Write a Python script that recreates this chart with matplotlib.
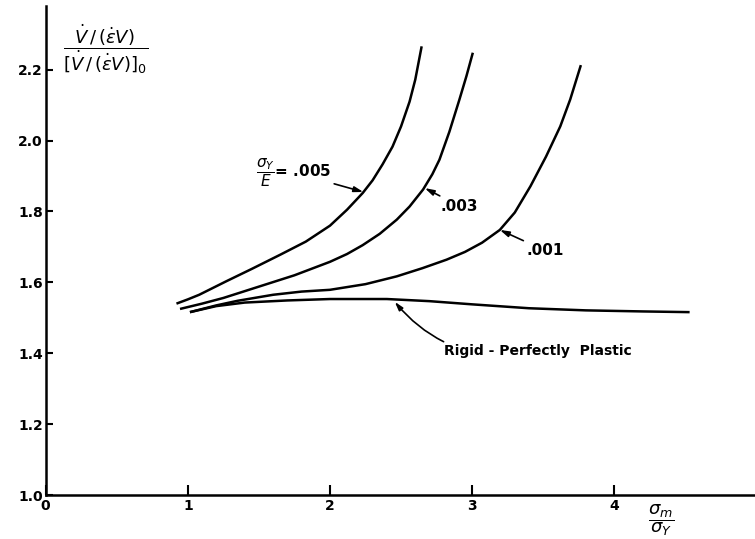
import matplotlib
matplotlib.use("Agg")
import matplotlib.pyplot as plt

plt.rcParams["font.family"] = ["DejaVu Sans"]
plt.rcParams["mathtext.fontset"] = "dejavusans"

# curves (sigma_m / sigma_Y, normalised volume rate)
x_005 = [0.92, 1.0, 1.08, 1.17, 1.27, 1.45, 1.65, 1.83, 2.0, 2.12, 2.23, 2.30, 2.37,
         2.44, 2.50, 2.56, 2.60, 2.645]
y_005 = [1.540, 1.552, 1.565, 1.583, 1.603, 1.638, 1.678, 1.715, 1.760, 1.805, 1.852,
         1.888, 1.933, 1.983, 2.040, 2.110, 2.172, 2.266]

x_003 = [0.945, 1.1, 1.25, 1.5, 1.75, 2.0, 2.12, 2.23, 2.35, 2.47, 2.56, 2.655, 2.72,
         2.77, 2.84, 2.91, 2.96, 3.005]
y_003 = [1.525, 1.540, 1.556, 1.588, 1.620, 1.658, 1.680, 1.705, 1.737, 1.777, 1.814,
         1.862, 1.905, 1.946, 2.025, 2.115, 2.182, 2.248]

x_001 = [1.015, 1.2, 1.35, 1.6, 1.8, 2.0, 2.25, 2.47, 2.65, 2.82, 2.95, 3.07, 3.195,
         3.30, 3.41, 3.52, 3.62, 3.69, 3.765]
y_001 = [1.516, 1.535, 1.548, 1.565, 1.574, 1.579, 1.595, 1.617, 1.640, 1.664, 1.686,
         1.712, 1.748, 1.797, 1.871, 1.955, 2.040, 2.116, 2.213]

x_rigid = [1.015, 1.2, 1.4, 1.7, 2.0, 2.4, 2.7, 3.0, 3.4, 3.8, 4.2, 4.53]
y_rigid = [1.516, 1.533, 1.543, 1.549, 1.553, 1.553, 1.547, 1.538, 1.527, 1.521, 1.518, 1.516]

xticks = [0, 1, 2, 3, 4]
yticks = [1.0, 1.2, 1.4, 1.6, 1.8, 2.0, 2.2]
ytick_labels = ["1.0", "1.2", "1.4", "1.6", "1.8", "2.0", "2.2"]

fig = plt.figure(figsize=(7.55, 5.39), dpi=100)
ax = fig.add_axes([0.0605, 0.0816, 0.9395, 0.9074])

lw = 1.8
for xs, ys in [(x_005, y_005), (x_003, y_003), (x_001, y_001), (x_rigid, y_rigid)]:
    ax.plot(xs, ys, color="black", lw=lw, solid_capstyle="butt", solid_joinstyle="round")

ax.set_xlim(0, 4.99)
ax.set_ylim(1.0, 2.38)
ax.spines["top"].set_visible(False)
ax.spines["right"].set_visible(False)
for s in ("left", "bottom"):
    ax.spines[s].set_linewidth(1.8)

ax.set_xticks(xticks)
ax.set_xticklabels([str(t) for t in xticks], fontsize=10, fontweight="bold")
ax.set_yticks(yticks)
ax.set_yticklabels(ytick_labels, fontsize=10, fontweight="bold")
ax.tick_params(axis="x", direction="in", length=7, width=1.5, pad=3)
ax.tick_params(axis="y", direction="in", length=5, width=1.5, pad=2)

arrow = dict(arrowstyle="-|>,head_length=0.5,head_width=0.15", color="black", lw=1.2,
             shrinkA=0, shrinkB=0)

ax.annotate(r"$\dfrac{\sigma_Y}{E}$= .005", xy=(2.235, 1.855), xytext=(2.01, 1.91),
            ha="right", va="center", fontsize=11, fontweight="bold", arrowprops=arrow)
ax.annotate(".003", xy=(2.667, 1.866), xytext=(2.78, 1.815),
            ha="left", va="center", fontsize=11, fontweight="bold", arrowprops=arrow)
ax.annotate(".001", xy=(3.195, 1.748), xytext=(3.38, 1.69),
            ha="left", va="center", fontsize=11, fontweight="bold", arrowprops=arrow)
ax.annotate("Rigid - Perfectly  Plastic", xy=(2.456, 1.545), xytext=(2.80, 1.405),
            ha="left", va="center", fontsize=10, fontweight="bold",
            arrowprops=dict(arrow, connectionstyle="arc3,rad=-0.3"))

fig.text(0.140, 0.908, r"$\dfrac{\dot{V}\,/\,(\dot{\epsilon}V)}{[\dot{V}\,/\,(\dot{\epsilon}V)]_0}$",
         ha="center", va="center", fontsize=13)
fig.text(0.8755, 0.034, r"$\dfrac{\sigma_m}{\sigma_Y}$", ha="center", va="center", fontsize=13)

fig.savefig("out.png", dpi=100)
